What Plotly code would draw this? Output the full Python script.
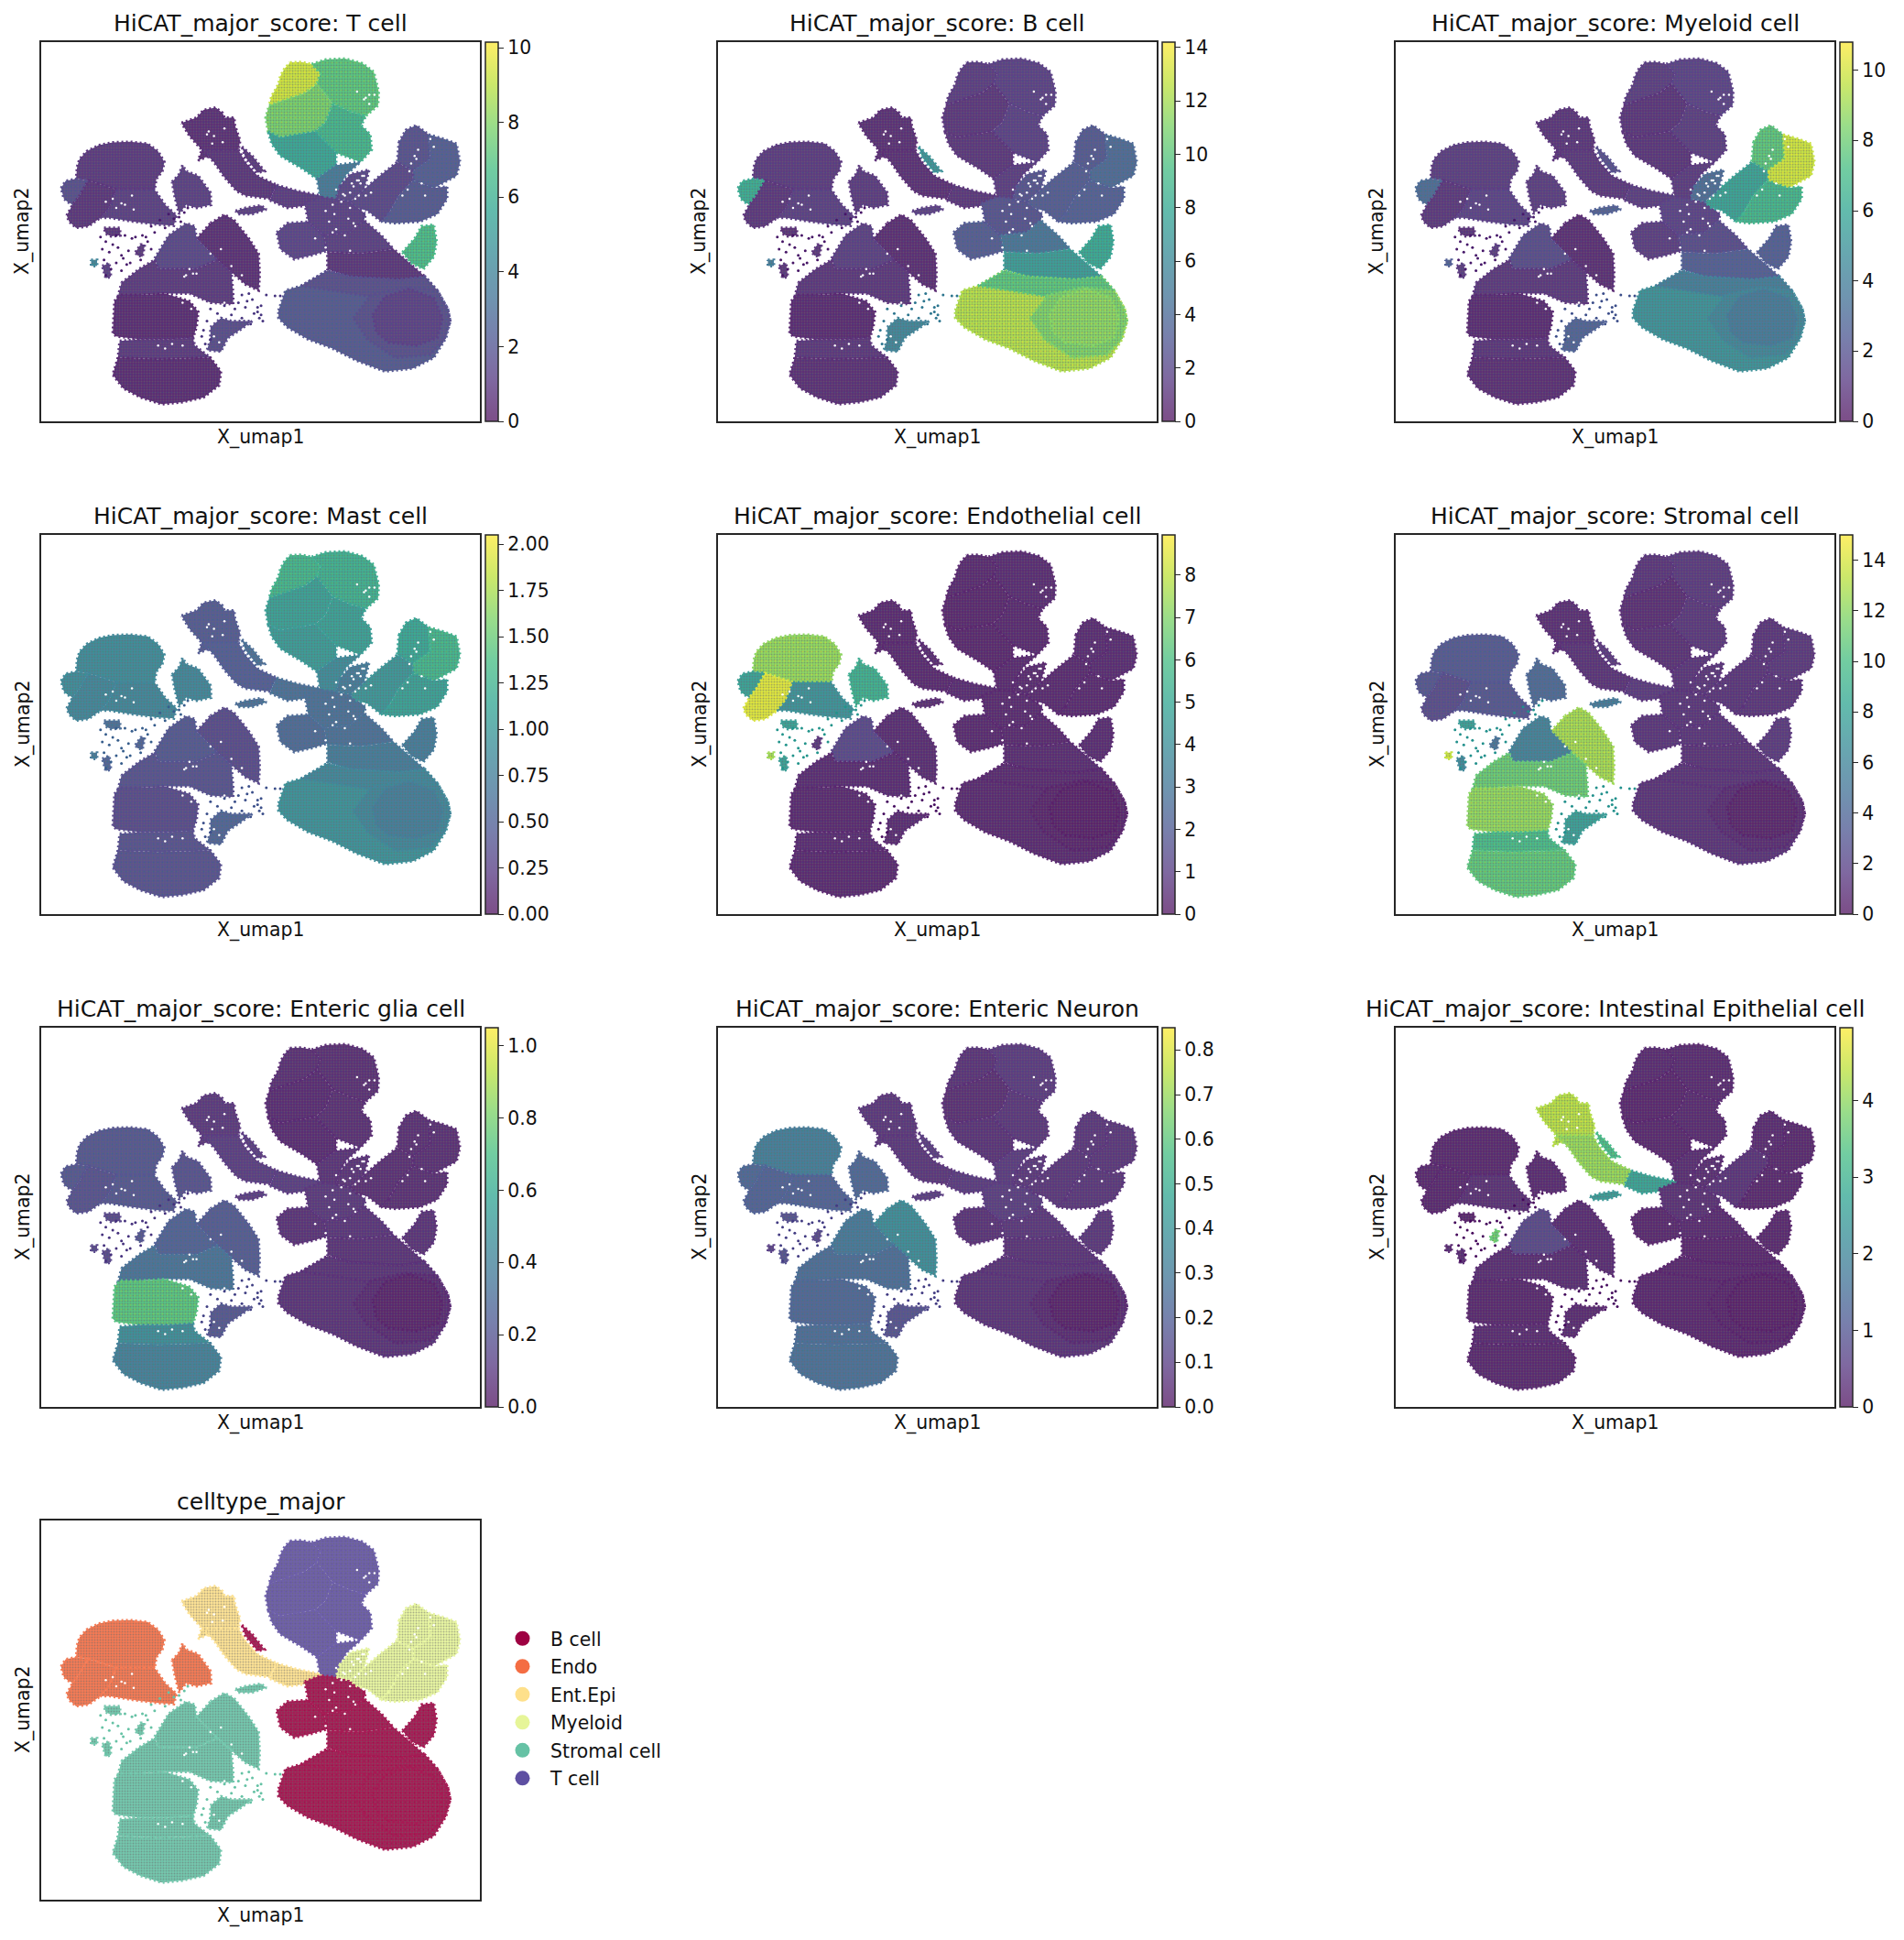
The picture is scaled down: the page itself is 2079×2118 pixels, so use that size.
import plotly.graph_objects as go
from plotly.colors import sample_colorscale, sequential

W, H = 2079, 2118

# panel frames in page pixels
col_left = [45, 784, 1524]
row_top = [46, 584, 1122, 1660]
frame_w, frame_h = 479, 414
cbar_gap = 6

titles = ["HiCAT_major_score: T cell", "HiCAT_major_score: B cell", "HiCAT_major_score: Myeloid cell",
          "HiCAT_major_score: Mast cell", "HiCAT_major_score: Endothelial cell", "HiCAT_major_score: Stromal cell",
          "HiCAT_major_score: Enteric glia cell", "HiCAT_major_score: Enteric Neuron",
          "HiCAT_major_score: Intestinal Epithelial cell", "celltype_major"]
vmax = [10.15, 14.2, 10.8, 2.05, 8.95, 15.0, 1.05, 0.85, 4.95]
ticks = [[0, 2, 4, 6, 8, 10], [0, 2, 4, 6, 8, 10, 12, 14], [0, 2, 4, 6, 8, 10],
         [0, 0.25, 0.5, 0.75, 1, 1.25, 1.5, 1.75, 2], [0, 1, 2, 3, 4, 5, 6, 7, 8], [0, 2, 4, 6, 8, 10, 12, 14],
         [0, 0.2, 0.4, 0.6, 0.8, 1], [0, 0.1, 0.2, 0.3, 0.4, 0.5, 0.6, 0.7, 0.8], [0, 1, 2, 3, 4]]
tick_fmt = ["d", "d", "d", ".2f", "d", "d", ".1f", ".1f", "d"]

celltypes = ["B cell", "Endo", "Ent.Epi", "Myeloid", "Stromal cell", "T cell"]
celltype_colors = ["#9e0142", "#f46d43", "#fee08b", "#e6f598", "#66c2a5", "#5e4fa2"]

# outlines of the cell clouds
t_nw = [(828,205),(860,203),(890,210),(915,240),(905,275),(870,305),(820,325),(768,345),(775,315),(795,275),(800,250),(812,225)]
t_ne = [(890,210),(930,195),(985,192),(1035,207),(1068,235),(1075,270),(1082,300),(1080,345),(1045,380),(1000,365),(950,340),(905,275),(915,240)]
t_w = [(768,345),(820,325),(870,305),(905,275),(950,340),(930,400),(900,430),(850,440),(800,450),(765,430),(758,385)]
t_e = [(950,340),(1000,365),(1045,380),(1032,410),(1058,440),(1062,490),(1030,530),(960,500),(900,430),(930,400)]
t_s = [(765,430),(800,450),(850,440),(900,430),(960,500),(960,540),(905,585),(860,550),(800,510),(775,470)]
t_stem = [(905,585),(960,540),(1030,530),(990,570),(970,610),(960,650),(915,650)]
epi_head = [(517,402),(560,385),(580,360),(615,352),(635,370),(640,385),(668,385),(670,410),(685,460),(680,490),(640,500),(610,495),(600,508),(565,525),(575,490),(540,445)]
epi_neck = [(575,490),(680,490),(700,530),(735,575),(790,605),(770,650),(700,640),(675,625),(640,580),(610,530)]
epi_tail = [(790,605),(850,625),(915,640),(930,665),(880,672),(820,680),(770,655)]
epi_streak = [(690,480),(720,510),(755,560),(735,565),(700,515)]
epi_blob = [(672,690),(700,680),(745,672),(760,685),(720,700),(680,700)]
endo_top = [(218,545),(225,520),(245,495),(280,475),(320,466),(370,464),(420,470),(450,495),(468,530),(462,560),(445,585),(440,620),(330,620),(250,590),(215,585)]
endo_left = [(172,615),(185,592),(215,585),(250,590),(225,640),(205,670),(190,660),(180,650)]
endo_low = [(188,705),(205,670),(225,640),(250,590),(330,620),(310,680),(285,712),(250,740),(215,745),(195,725)]
endo_right = [(330,620),(440,620),(470,670),(503,705),(495,738),(450,735),(380,725),(310,712),(285,712),(310,680)]
endo_small = [(490,595),(510,570),(520,540),(530,560),(565,575),(600,630),(602,670),(560,680),(530,670),(510,700),(497,640)]
endo_sat = [(295,745),(340,745),(342,770),(315,773),(300,765)]
st_ne = [(600,730),(640,702),(668,720),(710,780),(738,830),(741,900),(738,950),(700,930),(660,890),(620,850),(560,780)]
st_nw = [(440,845),(480,770),(530,730),(555,740),(560,780),(620,850),(560,880),(500,880),(450,880)]
st_mid = [(345,925),(395,880),(440,850),(450,880),(560,880),(620,850),(660,890),(665,965),(665,995),(600,990),(540,960),(470,960),(400,965),(335,970)]
st_low1 = [(325,985),(340,965),(400,965),(470,960),(540,985),(565,1020),(560,1070),(550,1105),(480,1110),(400,1110),(330,1100),(320,1090)]
st_low2a = [(340,1115),(400,1110),(480,1110),(550,1105),(555,1130),(600,1170),(450,1175),(335,1170)]
st_low2b = [(335,1170),(450,1175),(600,1170),(630,1215),(625,1260),(580,1300),(520,1315),(460,1322),(400,1300),(350,1270),(320,1225)]
st_side = [(600,1070),(630,1040),(660,1050),(720,1050),(690,1075),(650,1105),(630,1150),(590,1145),(600,1110)]
st_patch = [(385,825),(400,800),(412,800),(405,840),(390,835)]
st_dot = [(258,850),(275,850),(275,870),(258,870)]
st_frag = [(290,870),(310,860),(315,905),(300,910)]
b_west = [(790,760),(820,730),(880,725),(925,770),(935,820),(890,835),(840,848),(800,815)]
b_hub = [(870,665),(915,645),(960,650),(1000,660),(1045,700),(1040,720),(1000,760),(925,770),(880,725)]
b_neck1 = [(925,770),(1000,760),(1040,720),(1090,770),(1125,815),(1030,830),(935,825)]
b_neck2 = [(935,825),(1030,830),(1125,815),(1170,860),(1215,905),(1140,915),(1000,905),(935,880)]
b_big = [(795,1015),(815,950),(860,935),(935,885),(1000,905),(1140,915),(1215,905),(1250,950),(1280,1010),(1287,1050),(1275,1105),(1240,1170),(1180,1205),(1100,1215),(1020,1180),(950,1140),(880,1110),(820,1070),(795,1040)]
b_band = [(860,935),(935,885),(1000,905),(1140,915),(1215,905),(1250,950),(1170,950),(1060,970),(950,950)]
b_ring = [(1010,1040),(1060,965),(1160,940),(1250,950),(1280,1010),(1287,1050),(1270,1110),(1230,1160),(1130,1170),(1050,1110)]
b_core = [(1065,1030),(1100,970),(1170,945),(1240,975),(1265,1040),(1250,1105),(1190,1130),(1110,1120),(1075,1085)]
b_sat = [(1150,825),(1185,780),(1205,740),(1240,735),(1248,790),(1240,840),(1210,880),(1175,860)]
m_top = [(1140,465),(1160,425),(1190,410),(1225,440),(1230,520),(1180,560),(1135,530)]
m_hot = [(1225,440),(1270,455),(1305,470),(1315,530),(1305,575),(1240,615),(1180,590),(1180,560),(1230,520)]
m_left = [(1000,660),(1040,620),(1080,580),(1135,530),(1180,560),(1180,590),(1140,640),(1110,700),(1090,725),(1050,690),(1020,680)]
m_low = [(1110,700),(1140,640),(1180,590),(1240,615),(1278,610),(1278,650),(1250,700),(1200,725),(1130,730),(1090,725)]
hub_ne = [(970,610),(1000,570),(1055,555),(1040,620),(1000,660),(960,650)]

regions = [t_nw, t_ne, t_w, t_e, t_s, t_stem, epi_head, epi_neck, epi_tail, epi_streak, epi_blob,
           endo_top, endo_left, endo_low, endo_right, endo_small, endo_sat,
           st_ne, st_nw, st_mid, st_low1, st_low2a, st_low2b, st_side, st_patch, st_dot, st_frag,
           b_west, b_hub, b_neck1, b_neck2, b_big, b_band, b_ring, b_core, b_sat, m_top, m_hot, m_left, m_low, hub_ne]
region_type = [5, 5, 5, 5, 5, 5, 2, 2, 2, 0, 4, 1, 1, 1, 1, 1, 4, 4, 4, 4, 4, 4, 4, 4, 4, 4, 4,
               0, 0, 0, 0, 0, 0, 0, 0, 0, 3, 3, 3, 3, 3]

# mean score of each region, same order as regions
score_t = [9.2, 7.0, 7.6, 6.2, 5.4, 3.4, 0.5, 0.7, 0.9, 0.8, 1.0, 0.8, 1.6, 0.7, 1.0, 1.0, 0.7,
           0.5, 1.3, 0.8, 0.4, 0.8, 0.4, 1.5, 0.8, 4.0, 1.0, 1.2, 1.1, 1.0, 0.7, 2.0, 1.6, 1.6, 1.1, 6.5, 1.7, 2.2, 1.3, 2.0, 1.3]
score_b = [1.3, 1.5, 1.0, 1.5, 1.0, 1.3, 0.7, 0.7, 1.0, 6.5, 1.5, 1.2, 8.0, 1.0, 1.4, 1.2, 0.8,
           0.6, 1.4, 1.0, 0.5, 1.0, 0.7, 5.5, 1.0, 5.0, 1.0, 3.0, 2.5, 4.5, 7.0, 12.2, 9.8, 10.8, 11.2, 7.8, 2.8, 3.8, 3.0, 3.2, 2.5]
score_m = [1.0, 1.2, 0.7, 1.0, 0.7, 0.9, 0.7, 0.8, 1.0, 1.8, 2.5, 1.0, 3.0, 0.8, 1.2, 1.0, 0.7,
           0.5, 1.6, 0.8, 0.4, 0.7, 0.5, 2.6, 1.0, 2.5, 1.0, 1.0, 1.2, 1.6, 2.4, 4.8, 3.8, 4.2, 3.6, 2.4, 7.5, 9.8, 5.6, 6.6, 3.0]
score_mast = [1.25, 1.2, 1.05, 1.05, 1.0, 0.85, 0.42, 0.45, 0.6, 0.6, 0.6, 0.85, 0.85, 0.8, 0.8, 0.8, 0.6,
              0.3, 0.4, 0.35, 0.3, 0.35, 0.35, 0.5, 0.5, 0.7, 0.5, 0.55, 0.6, 0.6, 0.7, 0.9, 0.8, 0.8, 0.72, 0.7, 1.1, 1.25, 0.95, 1.05, 0.7]
score_endo = [0.25, 0.3, 0.2, 0.25, 0.2, 0.25, 0.25, 0.25, 0.3, 0.3, 0.4, 7.2, 4.6, 8.4, 4.0, 5.2, 4.6,
              0.35, 1.2, 0.3, 0.25, 0.3, 0.25, 0.3, 0.6, 7.5, 4.5, 0.25, 0.25, 0.25, 0.3, 0.25, 0.25, 0.15, 0.03, 0.3, 0.3, 0.3, 0.25, 0.25, 0.25]
score_st = [1.0, 1.2, 0.7, 1.1, 0.8, 1.0, 0.7, 0.9, 1.2, 1.2, 5.0, 3.0, 2.8, 2.2, 2.8, 4.0, 7.5,
            12.5, 5.5, 10.8, 12.0, 9.5, 10.5, 7.5, 4.5, 13.5, 6.0, 1.0, 1.0, 1.0, 0.9, 0.9, 0.9, 0.6, 0.25, 1.2, 1.0, 1.1, 1.0, 1.0, 1.0]
score_glia = [0.05, 0.05, 0.04, 0.05, 0.04, 0.06, 0.08, 0.1, 0.1, 0.1, 0.1, 0.2, 0.2, 0.18, 0.2, 0.18, 0.15,
              0.22, 0.25, 0.32, 0.72, 0.45, 0.38, 0.2, 0.2, 0.15, 0.15, 0.06, 0.08, 0.07, 0.06, 0.06, 0.06, 0.04, 0.015, 0.06, 0.05, 0.05, 0.05, 0.05, 0.06]
score_neuron = [0.05, 0.07, 0.04, 0.06, 0.05, 0.07, 0.06, 0.06, 0.07, 0.08, 0.08, 0.3, 0.22, 0.2, 0.2, 0.22, 0.15,
                0.36, 0.28, 0.24, 0.22, 0.24, 0.25, 0.15, 0.12, 0.1, 0.15, 0.05, 0.08, 0.06, 0.05, 0.05, 0.05, 0.03, 0.008, 0.06, 0.06, 0.06, 0.06, 0.06, 0.06]
score_epi = [0.15, 0.15, 0.1, 0.15, 0.12, 0.2, 4.3, 4.0, 2.6, 3.2, 2.4, 0.12, 0.12, 0.12, 0.25, 0.15, 0.1,
             0.18, 0.65, 0.2, 0.12, 0.15, 0.12, 0.15, 3.6, 0.2, 0.2, 0.12, 0.25, 0.15, 0.1, 0.1, 0.1, 0.06, 0.015, 0.12, 0.15, 0.12, 0.3, 0.12, 0.2]
panel_scores = [score_t, score_b, score_m, score_mast, score_endo, score_st, score_glia, score_neuron, score_epi]

# stray cells, with the region whose score they follow
stray_a_x = [285,300,320,290,310,335,350,295,330,360,345,315,300,375,330,355,385,370,405,420,440,430,455,470,495,480,510,525,515,535,430,415,400,345,365]
stray_a_y = [775,790,800,815,825,810,845,850,860,865,885,880,900,780,770,770,775,860,770,790,760,740,720,745,715,700,710,695,725,680,815,775,850,835,820]
stray_b_x = [760,785,800,690,705,720,735,745,700,680,725,750,690,660,710,600,620,640,590,580,600,670,745,715,735,740,575,585]
stray_b_y = [965,968,968,965,985,980,1005,1030,1005,990,1025,1050,1040,1030,960,1010,1025,1000,1050,1080,1110,1010,1000,1060,1020,1040,1100,1125]

# thin spots where the cells leave white showing through
gaps_x = [960,985,1005,1020,1040,975,1000,1025,955,940,995,1015,1040,960,985,930,950,1010,1045,1060,1030,1045,1055,1070,1190,1170,1205,1215,1150,1165,
          320,345,300,330,375,540,560,530,600,630,660,690,640,660,520,545,450,470,490,520,590,610,625,900,930,950,1000,
          1010,1025,1035,1000,980,1015,595,610,640,635,590,605,1195,1185,1175,1230,1240,1020,1040,1055,550,525,380,355]
gaps_y = [620,640,600,590,575,660,680,640,700,725,715,740,690,750,770,690,670,730,640,630,600,320,340,310,520,560,600,640,640,620,
          650,665,660,680,640,880,895,900,830,815,870,900,990,1000,990,1010,1130,1140,1125,1130,1090,1100,1120,780,810,760,820,
          610,590,575,630,635,650,430,445,420,465,440,470,490,510,535,455,480,300,325,310,895,905,685,670]

viridis = sequential.Viridis


def rgb_parts(color):
    if color.startswith("#"):
        return [int(color[i:i + 2], 16) for i in (1, 3, 5)]
    return [int(float(v)) for v in color.replace("rgb(", "").replace(")", "").split(",")]


def rgba(color, alpha):
    return "rgba(%d,%d,%d,%s)" % (*rgb_parts(color), alpha)


def on_white(color, alpha):
    return "rgb(%d,%d,%d)" % tuple(c * alpha + 255 * (1 - alpha) for c in rgb_parts(color))


def cmap(frac):
    return sample_colorscale(viridis, [min(frac, 1.0)])[0]


def px_x(x):
    return x / W


def px_y(y):
    return 1 - y / H


alpha_scale = [[i / (len(viridis) - 1), rgba(c, 0.7)] for i, c in enumerate(viridis)]

fig = go.Figure()
layout = dict(width=W, height=H, margin=dict(l=0, r=0, t=0, b=0), plot_bgcolor="white", paper_bgcolor="white",
              font=dict(family="DejaVu Sans", color="#111111"), annotations=[])


def add_cloud(pts, color, bright, ax):
    xs = [p[0] for p in pts] + [pts[0][0]]
    ys = [p[1] for p in pts] + [pts[0][1]]
    fig.add_trace(go.Scatter(x=xs, y=ys, mode="lines", fill="toself", line=dict(color=color, width=3, dash="2px,3px"),
                             fillpattern=dict(shape=".", size=3, solidity=0.35, fgcolor="#6a6a6a", bgcolor=color),
                             hoverinfo="skip", showlegend=False, xaxis="x" + ax, yaxis="y" + ax))
    fig.add_trace(go.Scatter(x=xs, y=ys, mode="lines", fill="toself", line=dict(width=0),
                             fillpattern=dict(shape=".", size=5, solidity=0.14, fgcolor=bright, bgcolor="rgba(0,0,0,0)"),
                             hoverinfo="skip", showlegend=False, xaxis="x" + ax, yaxis="y" + ax))


for n, title in enumerate(titles):
    ax = str(n + 1)
    left = col_left[n % 3]
    top = row_top[n // 3]
    layout["xaxis" + ax] = dict(domain=[px_x(left), px_x(left + frame_w)], range=[115, 1372], showticklabels=False,
                                ticks="", showgrid=False, zeroline=False, showline=True, mirror=True,
                                linecolor="#262626", linewidth=2, anchor="y" + ax)
    layout["yaxis" + ax] = dict(domain=[px_y(top + frame_h), px_y(top)], range=[1378, 138], showticklabels=False,
                                ticks="", showgrid=False, zeroline=False, showline=True, mirror=True,
                                linecolor="#262626", linewidth=2, anchor="x" + ax)
    layout["annotations"].append(dict(text=title, xref="paper", yref="paper", x=px_x(left + frame_w / 2), y=px_y(top - 4),
                                      xanchor="center", yanchor="bottom", showarrow=False, font=dict(size=25)))
    layout["annotations"].append(dict(text="X_umap1", xref="paper", yref="paper", x=px_x(left + frame_w / 2),
                                      y=px_y(top + frame_h + 17), xanchor="center", yanchor="middle", showarrow=False,
                                      font=dict(size=20.4)))
    layout["annotations"].append(dict(text="X_umap2", xref="paper", yref="paper", x=px_x(left - 20),
                                      y=px_y(top + frame_h / 2), xanchor="center", yanchor="middle", showarrow=False,
                                      textangle=-90, font=dict(size=20.4)))

    if n < 9:
        top_val = vmax[n]
        scores = panel_scores[n]
        fills = [on_white(cmap(v / top_val), 0.88) for v in scores]
        brights = [cmap(v / top_val + 0.14) for v in scores]
        stray_a = cmap(scores[16] / top_val)
        stray_b = cmap(scores[23] / top_val)
        # carries the colour axis for the colorbar
        fig.add_trace(go.Scatter(x=[300, 300], y=[300, 300], mode="markers", hoverinfo="skip", showlegend=False,
                                 marker=dict(color=[0, top_val], coloraxis="coloraxis" + ax, size=1, opacity=0),
                                 xaxis="x" + ax, yaxis="y" + ax))
        layout["coloraxis" + ax] = dict(cmin=0, cmax=top_val, colorscale=alpha_scale,
                                        colorbar=dict(x=px_x(left + frame_w + cbar_gap), xanchor="left", xpad=0, ypad=0,
                                                      y=px_y(top + frame_h / 2), yanchor="middle", len=frame_h / H,
                                                      lenmode="fraction", thickness=14, thicknessmode="pixels",
                                                      outlinecolor="#262626", outlinewidth=1.5, ticks="outside",
                                                      ticklen=6, tickcolor="#262626", tickvals=ticks[n],
                                                      tickformat=tick_fmt[n], tickfont=dict(size=20.4, color="#111111")))
    else:
        fills = [on_white(celltype_colors[t], 0.9) for t in region_type]
        brights = [celltype_colors[t] for t in region_type]
        stray_a = celltype_colors[4]
        stray_b = celltype_colors[4]

    for pts, color, bright in zip(regions, fills, brights):
        add_cloud(pts, color, bright, ax)
    fig.add_trace(go.Scatter(x=stray_a_x, y=stray_a_y, mode="markers", marker=dict(size=3, color=stray_a), hoverinfo="skip",
                             showlegend=False, xaxis="x" + ax, yaxis="y" + ax))
    fig.add_trace(go.Scatter(x=stray_b_x, y=stray_b_y, mode="markers", marker=dict(size=3, color=stray_b), hoverinfo="skip",
                             showlegend=False, xaxis="x" + ax, yaxis="y" + ax))
    fig.add_trace(go.Scatter(x=gaps_x, y=gaps_y, mode="markers", marker=dict(size=2.5, color="white"), hoverinfo="skip",
                             showlegend=False, xaxis="x" + ax, yaxis="y" + ax))

for name, color in zip(celltypes, celltype_colors):
    fig.add_trace(go.Scatter(x=[None], y=[None], mode="markers", name=name, legendgroup=name,
                             marker=dict(size=16, color=color), xaxis="x10", yaxis="y10"))

layout["legend"] = dict(x=px_x(540), y=px_y(1769), xanchor="left", yanchor="top", font=dict(size=20.4, color="#111111"),
                        tracegroupgap=1, itemwidth=51, bgcolor="rgba(0,0,0,0)", borderwidth=0)
fig.update_layout(**layout)

fig.write_html("out.html", config={"displayModeBar": False}, post_script="document.body.style.margin='0';")
